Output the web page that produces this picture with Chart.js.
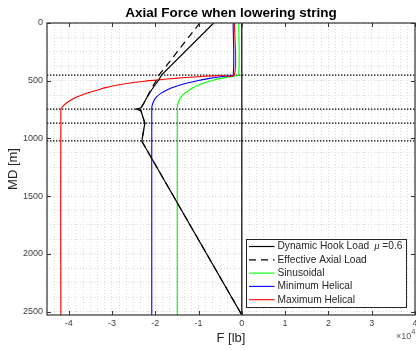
<!DOCTYPE html>
<html>
<head>
<meta charset="utf-8">
<script src="https://cdn.jsdelivr.net/npm/chart.js@4.4.1/dist/chart.umd.min.js"></script>
<style>
  html, body { margin: 0; padding: 0; background: #fff; }
  #wrap { width: 416px; height: 350px; }
</style>
</head>
<body>
<div id="wrap"><canvas id="axial-chart" width="416" height="350"></canvas></div>
<script>
// Axial force along the string while lowering (MD in m, force in lb)
const forceMin = -45000;
const forceMax = 40000;
const mdMax = 2530;

const seriesNames = ['Dynamic Hook Load', 'Effective Axial Load', 'Sinusoidal', 'Minimum Helical', 'Maximum Helical'];
const frictionLabel = ['\u03bc', ' =0.6'];

const xTicks = [-40000, -30000, -20000, -10000, 0, 10000, 20000, 30000, 40000];
const xTickLabels = ['-4', '-3', '-2', '-1', '0', '1', '2', '3', '4'];
const yTicks = [0, 500, 1000, 1500, 2000, 2500];
const yTickLabels = ['0', '500', '1000', '1500', '2000', '2500'];

const hookMD = [0, 450, 500, 550, 600, 650, 700, 735, 746, 760, 867, 1024, 2530];
const hookF  = [-6500, -18500, -19300, -20300, -21200, -22000, -22700, -23300, -24300, -23300, -22400, -23100, 0];

const effectiveMD = [0, 450, 500, 550, 600, 650, 700, 735, 746, 760, 867, 1024, 2530];
const effectiveF  = [-9700, -19100, -19800, -20600, -21300, -22000, -22700, -23300, -24300, -23300, -22400, -23100, 0];

const sinusoidalMD = [0, 450, 458, 468, 480, 500, 520, 550, 578, 610, 640, 680, 720, 746, 2530];
const sinusoidalF  = [-700, -700, -1400, -3000, -4800, -7000, -8700, -10700, -12000, -13200, -14000, -14600, -14850, -14900, -14900];

const minHelicalMD = [0, 450, 458, 468, 480, 500, 520, 550, 578, 610, 640, 680, 720, 746, 2530];
const minHelicalF  = [-2000, -2000, -3300, -5300, -7400, -10300, -12600, -15300, -17200, -18700, -19700, -20400, -20750, -20800, -20800];

const maxHelicalMD = [0, 450, 455, 462, 470, 480, 492, 505, 520, 540, 560, 580, 610, 640, 670, 700, 725, 746, 2530];
const maxHelicalF  = [-1700, -1700, -4500, -8500, -12000, -15500, -19000, -22500, -25800, -29000, -31500, -33300, -36000, -38000, -39600, -40700, -41400, -41800, -41800];

// section depths marked across the plot
const markerMD = [451, 746, 867, 1022];

const pts = (xs, ys) => xs.map((x, i) => ({ x: x, y: ys[i] }));

// minor grid steps
const xGrid = [];
for (let k = 0; k <= 51; k++) xGrid.push(forceMin + Math.round(k * 10000 / 6));
const yGrid = [];
for (let v = 0; v <= 2500; v += 125) yGrid.push(v);

const labelFor = (ticks, labels, v) => {
  const i = ticks.findIndex(t => Math.abs(t - v) < 1);
  return i >= 0 ? labels[i] : '';
};

const datasets = [
  { label: seriesNames[0], legendRank: 0, data: pts(hookF, hookMD), borderColor: '#000', borderWidth: 1.2 },
  { label: seriesNames[1], legendRank: 1, data: pts(effectiveF, effectiveMD), borderColor: '#000', borderWidth: 1.2, borderDash: [7, 5] },
  { label: seriesNames[4], legendRank: 4, data: pts(maxHelicalF, maxHelicalMD), borderColor: '#ff0000', borderWidth: 1.1, tension: 0.3 },
  { label: seriesNames[3], legendRank: 3, data: pts(minHelicalF, minHelicalMD), borderColor: '#0000ff', borderWidth: 1.1, tension: 0.3 },
  { label: seriesNames[2], legendRank: 2, data: pts(sinusoidalF, sinusoidalMD), borderColor: '#00ff00', borderWidth: 1.1, tension: 0.3 },
  { label: 'zero', data: pts([0, 0], [0, mdMax]), borderColor: '#000', borderWidth: 1.2 }
];
markerMD.forEach(md => {
  datasets.push({ label: 'marker', data: pts([forceMin, forceMax], [md, md]), borderColor: '#000', borderWidth: 1.3, borderDash: [1.4, 1.6] });
});

const font = 'Liberation Sans';

// axes box with inward ticks on all four sides
const frame = {
  id: 'frame',
  afterDatasetsDraw(chart) {
    const { ctx, chartArea: a } = chart;
    const xs = chart.scales.x, ys = chart.scales.y;
    ctx.save();
    ctx.strokeStyle = '#333';
    ctx.lineWidth = 1.2;
    ctx.strokeRect(a.left, a.top, a.right - a.left, a.bottom - a.top);
    ctx.lineWidth = 1;
    ctx.beginPath();
    xTicks.forEach(v => {
      const px = Math.round(xs.getPixelForValue(v)) + 0.5;
      ctx.moveTo(px, a.bottom); ctx.lineTo(px, a.bottom - 4);
      ctx.moveTo(px, a.top); ctx.lineTo(px, a.top + 4);
    });
    yTicks.forEach(v => {
      const py = Math.round(ys.getPixelForValue(v)) + 0.5;
      ctx.moveTo(a.left, py); ctx.lineTo(a.left + 4, py);
      ctx.moveTo(a.right, py); ctx.lineTo(a.right - 4, py);
    });
    ctx.stroke();
    ctx.restore();
  }
};

// title, exponent note and legend box
const overlay = {
  id: 'overlay',
  afterDraw(chart) {
    const { ctx, chartArea: a } = chart;
    ctx.save();
    ctx.fillStyle = '#000';
    ctx.textAlign = 'center';
    ctx.textBaseline = 'middle';
    ctx.font = 'bold 13.5px "' + font + '"';
    ctx.fillText('Axial Force when lowering string', (a.left + a.right) / 2, 13.5);

    ctx.fillStyle = '#555';
    ctx.textAlign = 'right';
    ctx.textBaseline = 'alphabetic';
    ctx.font = '7.5px "' + font + '"';
    ctx.fillText('4', 415.5, 334);
    const w4 = ctx.measureText('4').width;
    ctx.font = '9px "' + font + '"';
    ctx.fillText('\u00d710', 415.5 - w4, 338.5);

    const items = chart.data.datasets.filter(d => d.legendRank !== undefined)
      .sort((p, q) => p.legendRank - q.legendRank);
    const bx = 246.5, by = 239.5, bw = 160, bh = 68;
    ctx.fillStyle = '#fff';
    ctx.fillRect(bx, by, bw, bh);
    ctx.strokeStyle = '#262626';
    ctx.lineWidth = 1;
    ctx.strokeRect(bx, by, bw, bh);
    items.forEach((d, i) => {
      const y = 246.5 + i * 13.3;
      ctx.strokeStyle = d.borderColor;
      ctx.lineWidth = d.borderWidth;
      ctx.setLineDash(d.borderDash || []);
      ctx.beginPath();
      ctx.moveTo(249, y); ctx.lineTo(274.5, y);
      ctx.stroke();
      ctx.setLineDash([]);
      ctx.fillStyle = '#262626';
      ctx.textAlign = 'left';
      ctx.textBaseline = 'middle';
      ctx.font = '10.2px "' + font + '"';
      ctx.fillText(d.label, 277.5, y);
      if (d.legendRank === 0) {
        let x = 277.5 + ctx.measureText(d.label).width + 5;
        ctx.font = 'italic 10.5px "Liberation Serif"';
        ctx.fillText(frictionLabel[0], x, y);
        x += ctx.measureText(frictionLabel[0]).width;
        ctx.font = '10.2px "' + font + '"';
        ctx.fillText(frictionLabel[1], x, y);
      }
    });
    ctx.restore();
  }
};

new Chart(document.getElementById('axial-chart'), {
  type: 'scatter',
  data: { datasets: datasets },
  options: {
    responsive: false,
    animation: false,
    events: [],
    layout: { padding: { top: 23, right: 1, left: 0, bottom: 0 } },
    plugins: { legend: { display: false }, tooltip: { enabled: false }, title: { display: false } },
    elements: { point: { radius: 0 }, line: { tension: 0, fill: false } },
    showLine: true,
    scales: {
      x: {
        type: 'linear',
        min: forceMin,
        max: forceMax,
        afterBuildTicks: s => { s.ticks = xGrid.map(v => ({ value: v })); },
        afterFit: s => { s.height = 35; s.paddingLeft = 0; s.paddingRight = 0; },
        ticks: {
          autoSkip: false, maxRotation: 0, minRotation: 0, padding: 3,
          color: '#404040', font: { family: font, size: 9 },
          callback: v => labelFor(xTicks, xTickLabels, v)
        },
        grid: { color: '#dddddd', lineWidth: 1, drawTicks: false },
        border: { display: false, dash: [1, 2] },
        title: { display: true, text: 'F [lb]', color: '#262626', font: { family: font, size: 13 }, padding: { top: 0, bottom: 4 } }
      },
      y: {
        type: 'linear',
        reverse: true,
        min: 0,
        max: mdMax,
        afterBuildTicks: s => { s.ticks = yGrid.map(v => ({ value: v })); },
        afterFit: s => { s.width = 47; s.paddingTop = 0; s.paddingBottom = 0; },
        ticks: {
          autoSkip: false, padding: 4,
          color: '#404040', font: { family: font, size: 9 },
          callback: v => labelFor(yTicks, yTickLabels, v)
        },
        grid: { color: '#dddddd', lineWidth: 1, drawTicks: false },
        border: { display: false, dash: [1, 2] },
        title: { display: true, text: 'MD [m]', color: '#262626', font: { family: font, size: 13 }, padding: { top: 5.5, bottom: 0 } }
      }
    }
  },
  plugins: [frame, overlay]
});
</script>
</body>
</html>
